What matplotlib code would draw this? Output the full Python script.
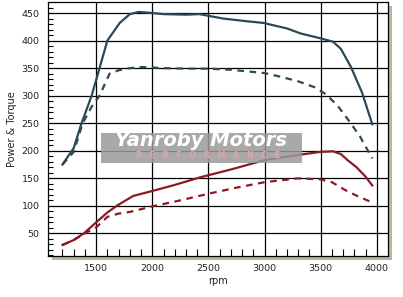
import numpy as np
import matplotlib.pyplot as plt
from matplotlib.patches import Rectangle

# dyno readings
rpm_tq = [1200, 1300, 1370, 1460, 1530, 1600, 1710, 1800, 1880, 2000, 2100, 2300, 2420,
          2630, 2800, 2990, 3200, 3320, 3500, 3610, 3680, 3770, 3870, 3960]
tq_solid = [175, 205, 250, 300, 350, 400, 432, 448, 452, 450, 448, 447, 448,
            440, 436, 432, 422, 413, 404, 398, 385, 352, 305, 248]

rpm_tq2 = [1200, 1300, 1380, 1460, 1530, 1620, 1700, 1760, 1900, 2100, 2300, 2500, 2700,
           3000, 3150, 3300, 3450, 3550, 3650, 3750, 3850, 3960]
tq_dash = [175, 198, 250, 280, 300, 340, 346, 349, 352, 350, 349, 349, 347,
           341, 334, 326, 315, 302, 282, 255, 226, 186]

rpm_pw = [1200, 1300, 1390, 1500, 1600, 1690, 1830, 2000, 2200, 2430, 2700, 3000, 3250,
          3500, 3610, 3680, 3740, 3820, 3900, 3960]
pw_solid = [29, 38, 50, 70, 88, 101, 118, 127, 138, 152, 166, 183, 191,
            198, 199, 194, 183, 170, 153, 137]

rpm_pw2 = [1200, 1300, 1400, 1500, 1600, 1700, 1800, 2000, 2250, 2500, 2750, 3000,
           3300, 3500, 3600, 3750, 3860, 3960]
pw_dash = [29, 38, 50, 61, 80, 86, 89, 99, 110, 122, 133, 143,
           150, 148, 143, 125, 115, 106]

blue = '#2b4a56'
red = '#8c1a26'

plt.rcParams['font.family'] = 'DejaVu Sans'
fig = plt.figure(figsize=(4.03, 2.97), dpi=100)
ax = fig.add_axes([48/403, 41/297, 340/403, 254/297])
ax.set_zorder(1)

# drop shadow behind the plot box
fig.patches.append(Rectangle((52/403, 37/297), 340/403, 254/297, transform=fig.transFigure,
                             facecolor='#b9b6a0', edgecolor='none', zorder=0))
ax.set_facecolor('white')

ax.plot(rpm_tq, tq_solid, color=blue, lw=1.6)
ax.plot(rpm_tq2, tq_dash, color=blue, lw=1.6, ls=(0, (3, 2.5)))
ax.plot(rpm_pw, pw_solid, color=red, lw=1.6)
ax.plot(rpm_pw2, pw_dash, color=red, lw=1.6, ls=(0, (3, 2.5)))

ax.set_xlim(1071, 4100)
ax.set_ylim(9, 470)
ax.set_xticks([1500, 2000, 2500, 3000, 3500, 4000])
ax.set_yticks([50, 100, 150, 200, 250, 300, 350, 400, 450])
ax.set_xticks(np.arange(1200, 4100, 100), minor=True)
ax.set_yticks(np.arange(10, 470, 10), minor=True)
ax.grid(True, which='major', color='black', lw=0.9)
ax.set_axisbelow(True)
ax.tick_params(which='major', length=0, labelsize=6.8, pad=6, colors='#222222')
ax.tick_params(which='minor', direction='in', color='black', width=0.8)
ax.tick_params(axis='x', which='minor', length=5)
ax.tick_params(axis='y', which='minor', length=3.5)
for s in ax.spines.values():
    s.set_color('black')
    s.set_linewidth(0.9)

ax.set_xlabel('rpm', fontsize=7, labelpad=2, color='#222222')
ax.set_ylabel('Power & Torque', fontsize=7, labelpad=3, color='#222222')

# watermark
fig.patches.append(Rectangle((101/403, 134/297), 201/403, 30/297, transform=fig.transFigure,
                             facecolor='#9a9a9a', edgecolor='none', alpha=0.85, zorder=5))
fig.text(201/403, 156/297, 'Yanroby Motors', ha='center', va='center', fontsize=14,
         fontweight='bold', style='italic', color='white', zorder=6)
fig.text(208/403, 141/297, 'P   E   R   F   O   R   M   A   N   C   E', ha='center',
         va='center', fontsize=5.5, fontweight='bold', color='#eaa2a2', zorder=6)

plt.savefig('out.png', dpi=100)
